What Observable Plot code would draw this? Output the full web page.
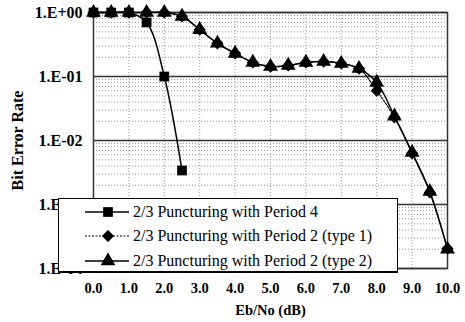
<!DOCTYPE html>
<html>
<head>
<meta charset="utf-8">
<script src="https://cdn.jsdelivr.net/npm/d3@7"></script>
<script src="https://cdn.jsdelivr.net/npm/@observablehq/plot@0.6"></script>
<style>
  body { margin: 0; background: #fff; }
  #wrap { position: relative; width: 465px; height: 322px; }
  #legend { position: absolute; left: 58px; top: 198px; width: 340px; height: 75px;
            background: #fff; border: 1px solid #000; border-bottom-width: 2px; box-sizing: border-box; }
  #legend .row { position: absolute; left: 0; height: 20px; display: flex; align-items: center;
                 font-family: "Liberation Serif", serif; font-size: 16px; color: #000; white-space: nowrap; }
  #legend svg { display: block; }
</style>
</head>
<body>
<div id="wrap"></div>
<script>
const ebno4 = [0, 0.5, 1.0, 1.5, 2.0, 2.5];
const berPeriod4 = [1, 1, 1, 0.7, 0.1, 0.0034];
const ebno2 = [0, 0.5, 1.0, 1.5, 2.0, 2.5, 3.0, 3.5, 4.0, 4.5, 5.0, 5.5, 6.0, 6.5, 7.0, 7.5, 8.0, 8.5, 9.0, 9.5, 10.0];
const berPeriod2Type1 = [1, 1, 1, 1, 1, 0.87, 0.54, 0.33, 0.23, 0.166, 0.143, 0.149, 0.166, 0.171, 0.16, 0.133, 0.06, 0.023, 0.0063, 0.00154, 0.000205];
const berPeriod2Type2 = [1, 1, 1, 1, 1, 0.87, 0.54, 0.33, 0.23, 0.166, 0.143, 0.149, 0.166, 0.171, 0.16, 0.133, 0.081, 0.024, 0.0065, 0.0016, 0.0002];
const seriesNames = ["2/3 Puncturing with Period 4", "2/3 Puncturing with Period 2 (type 1)", "2/3 Puncturing with Period 2 (type 2)"];
const xTicks = [0, 1, 2, 3, 4, 5, 6, 7, 8, 9, 10];
const yTicks = [1, 0.1, 0.01, 0.001, 0.0001];

const s1 = ebno4.map((x, i) => ({x, y: berPeriod4[i]}));
const s2 = ebno2.map((x, i) => ({x, y: berPeriod2Type1[i]}));
const s3 = ebno2.map((x, i) => ({x, y: berPeriod2Type2[i]}));
const minor = [];
for (const d of [1e-4, 1e-3, 1e-2, 1e-1]) for (let k = 2; k <= 9; k++) minor.push(d * k);

const fmtY = d => { const e = Math.round(Math.log10(d)); return "1.E" + (e >= 0 ? "+" : "-") + String(Math.abs(e)).padStart(2, "0"); };

const chart = Plot.plot({
  width: 465, height: 322,
  marginLeft: 93, marginRight: 18, marginTop: 12, marginBottom: 54,
  style: {fontFamily: "Liberation Serif, serif", fontSize: "14px", fontWeight: "bold", background: "#fff", color: "#000"},
  x: {domain: [0, 10]},
  y: {type: "log", domain: [1e-4, 1]},
  marks: [
    Plot.ruleY(minor, {stroke: "#999", strokeDasharray: "1,2", strokeWidth: 1}),
    Plot.ruleX(xTicks.slice(1, -1), {stroke: "#999", strokeDasharray: "1,2", strokeWidth: 1}),
    Plot.ruleY(yTicks, {stroke: "#333", strokeWidth: 1.5}),
    Plot.frame({stroke: "#333", strokeWidth: 1.5}),
    Plot.axisX({ticks: xTicks, tickFormat: d => d.toFixed(1), tickSize: 0, tickPadding: 14, fontSize: 14.5, label: "Eb/No (dB)", labelAnchor: "center", labelArrow: "none", labelOffset: 46}),
    Plot.axisY({ticks: yTicks, tickFormat: fmtY, tickSize: 0, tickPadding: 11, fontSize: 16, label: "Bit Error Rate", labelAnchor: "center", labelArrow: "none", labelOffset: 82}),
    Plot.line(s1, {x: "x", y: "y", stroke: "#000", strokeWidth: 1.5, curve: "catmull-rom"}),
    Plot.line(s2, {x: "x", y: "y", stroke: "#000", strokeWidth: 1.2, strokeDasharray: "2,1.5", curve: "catmull-rom"}),
    Plot.line(s3, {x: "x", y: "y", stroke: "#000", strokeWidth: 1.5, curve: "catmull-rom"}),
    Plot.dot(s2, {x: "x", y: "y", symbol: "diamond2", r: 5.5, fill: "#000"}),
    Plot.dot(s3, {x: "x", y: "y", symbol: "triangle", r: 5.5, fill: "#000"}),
    Plot.dot(s1, {x: "x", y: "y", symbol: "square", r: 5.5, fill: "#000"})
  ]
});
const wrap = document.getElementById("wrap");
wrap.appendChild(chart);

// legend
const legend = document.createElement("div");
legend.id = "legend";
const symbols = ["square", "diamond2", "triangle"];
const dashes = [null, "2,1.5", null];
const rowTops = [3, 27, 52];
seriesNames.forEach((name, i) => {
  const row = document.createElement("div");
  row.className = "row";
  row.style.top = rowTops[i] + "px";
  const sw = d3.create("svg").attr("width", 72).attr("height", 20);
  sw.append("line").attr("x1", 26).attr("x2", 70).attr("y1", 10).attr("y2", 10)
    .attr("stroke", "#000").attr("stroke-width", dashes[i] ? 1.2 : 1.5).attr("stroke-dasharray", dashes[i]);
  const sym = {square: d3.symbolSquare, diamond2: d3.symbolDiamond2, triangle: d3.symbolTriangle}[symbols[i]];
  sw.append("path").attr("transform", "translate(49,10)").attr("d", d3.symbol(sym, Math.PI * 5.5 * 5.5)()).attr("fill", "#000");
  row.appendChild(sw.node());
  const t = document.createElement("span");
  t.textContent = name;
  t.style.marginLeft = "2px";
  row.appendChild(t);
  legend.appendChild(row);
});
wrap.appendChild(legend);
</script>
</body>
</html>
